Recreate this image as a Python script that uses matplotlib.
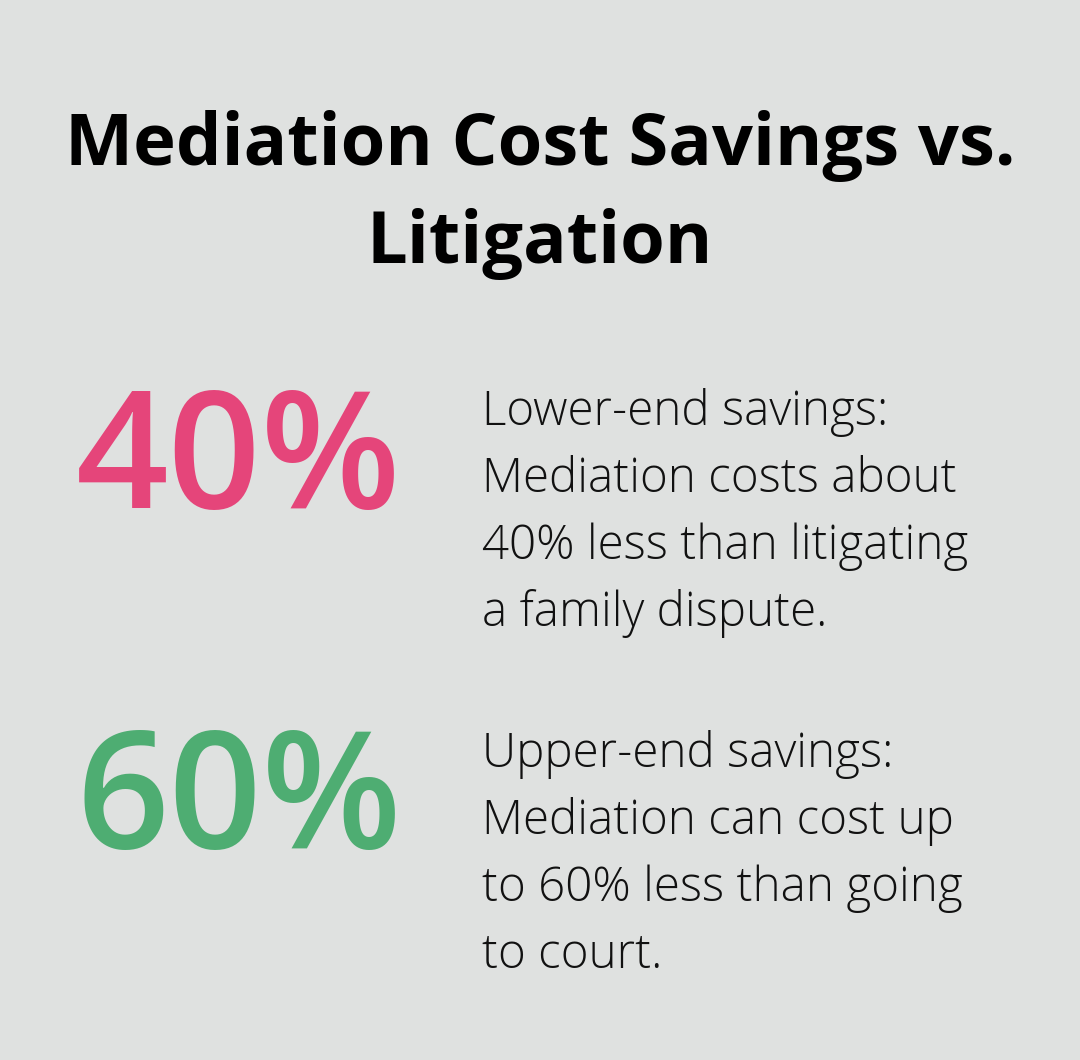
import matplotlib
matplotlib.use("Agg")
import matplotlib.pyplot as plt

title_lines = ["Mediation Cost Savings vs.", "Litigation"]
values = ["40%", "60%"]
colors = ["#e5457a", "#4ead72"]
descriptions = [
    ["Lower-end savings:", "Mediation costs about", "40% less than litigating", "a family dispute."],
    ["Upper-end savings:", "Mediation can cost up", "to 60% less than going", "to court."],
]

W, H = 1080, 1060
fig = plt.figure(figsize=(W/100, H/100), dpi=100)
fig.patch.set_facecolor("#dfe1e0")
fam = ["Open Sans", "DejaVu Sans"]

def T(x, y, s, **kw):
    fig.text(x/W, 1 - y/H, s, family=fam, va="baseline", **kw)

for i, line in enumerate(title_lines):
    T(540, 165 + i*98, line, ha="center", fontsize=52, fontweight="bold", color="#000000")

num_base = [508, 848]
desc_base = [425, 767]
for k in range(2):
    T(239, num_base[k], values[k], ha="center", fontsize=117, fontweight="semibold", color=colors[k])
    for j, line in enumerate(descriptions[k]):
        T(482, desc_base[k] + j*67, line, ha="left", fontsize=34.2, fontweight="light", color="#111111")

fig.savefig("out.png", dpi=100, facecolor=fig.get_facecolor())
